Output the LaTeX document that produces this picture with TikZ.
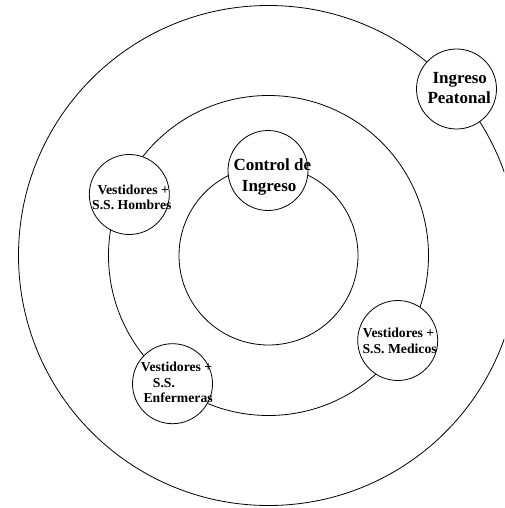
\documentclass[tikz,border=0pt]{standalone}
\usepackage{fontspec}
\setmainfont{Liberation Serif}
\tikzset{
  ring/.style={draw, line width=0.8pt},
  room/.style={draw, line width=0.8pt, circle, fill=white, minimum size=80pt, inner sep=0pt},
  big/.style={anchor=base west, inner sep=0pt, font=\fontsize{17}{20}\selectfont\bfseries},
  small/.style={anchor=base west, inner sep=0pt, font=\fontsize{13.7}{16}\selectfont\bfseries}
}
\begin{document}
\begin{tikzpicture}[x=1pt,y=1pt]
\useasboundingbox (0,0) rectangle (504,-508);
\clip (0,0) rectangle (504,-508);
\coordinate (ctr) at (268.5,-255.5);
\draw[ring] (ctr) circle[radius=250];
\draw[ring] (ctr) circle[radius=160];
\draw[ring] (ctr) circle[radius=89.5];
% rooms
\node[room] (control) at (268,-170.5) {};
\node[room] (peatonal) at (456.5,-89) {};
\node[room] (hombres) at (129.3,-194.5) {};
\node[room] (medicos) at (397.7,-340.5) {};
\node[room] (enfermeras) at (172.5,-383.7) {};
% labels
\node[big] (c1) at (233.3,-170.7) {Control de};
\node[big] (c2) at (241.7,-191) {Ingreso};
\node[big] (p1) at (432.3,-84) {Ingreso};
\node[big] (p2) at (427.3,-104) {Peatonal};
\node[small] (h1) at (97.3,-194.3) {Vestidores +};
\node[small] (h2) at (92,-209.3) {S.S. Hombres};
\node[small] (m1) at (362.7,-337.7) {Vestidores +};
\node[small] (m2) at (362.3,-353.3) {S.S. Medicos};
\node[small] (e1) at (140.7,-371) {Vestidores +};
\node[small] (e2) at (152.7,-387.3) {S.S.};
\node[small] (e3) at (143.3,-402.7) {Enfermeras};
\end{tikzpicture}
\end{document}
